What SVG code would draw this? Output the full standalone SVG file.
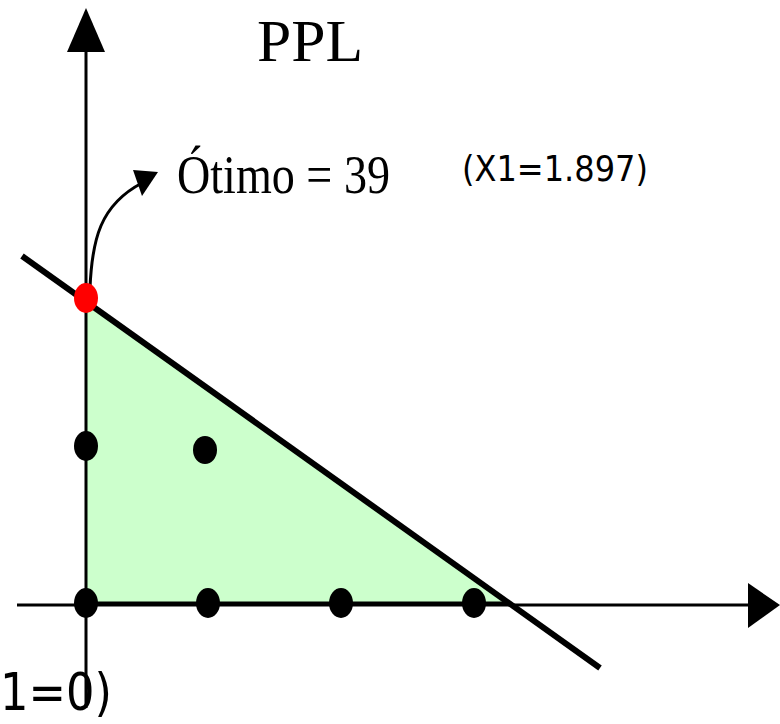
<svg xmlns="http://www.w3.org/2000/svg" width="780" height="724" viewBox="0 0 780 724">
<style>
.ax{stroke:#000;stroke-width:3;fill:none}
.dot{fill:#000}
.serif{font-family:"Liberation Serif","Times New Roman",serif;fill:#000}
.sans{font-family:"DejaVu Sans","Liberation Sans",sans-serif;fill:#000}
</style>
<rect width="780" height="724" fill="#fff"/>
<g id="region">
<polygon points="86,300 86,604 506,604" fill="#ccffcc"/>
</g>
<g id="connectors">
<line class="ax" x1="86" y1="48" x2="86" y2="708"/>
<polygon points="86,8 67,52 105,52" fill="#000"/>
<line class="ax" x1="17" y1="605" x2="750" y2="605"/>
<polygon points="780,605 748,583 748,628" fill="#000"/>
<line x1="86" y1="603" x2="506" y2="603" stroke="#000" stroke-width="3"/>
<line x1="22" y1="256" x2="600" y2="668" stroke="#000" stroke-width="6"/>
<path d="M90,288 C92,240 100,205 142,183" class="ax"/>
<polygon points="158,172 133,170 142,196" fill="#000"/>
</g>
<g id="optimum"><ellipse cx="86" cy="298" rx="12" ry="15" fill="#ff0000"/></g>
<g id="p1"><ellipse class="dot" cx="86" cy="446" rx="12" ry="15"/></g>
<g id="p2"><ellipse class="dot" cx="205" cy="450" rx="12" ry="14"/></g>
<g id="p3"><ellipse class="dot" cx="86" cy="603" rx="12" ry="15"/></g>
<g id="p4"><ellipse class="dot" cx="208" cy="603" rx="12" ry="15"/></g>
<g id="p5"><ellipse class="dot" cx="341" cy="603" rx="12" ry="15"/></g>
<g id="p6"><ellipse class="dot" cx="474" cy="603" rx="12" ry="15"/></g>
<g id="labels">
<text class="serif" x="257" y="61" font-size="59" textLength="106" lengthAdjust="spacingAndGlyphs">PPL</text>
<text class="serif" x="177" y="193" font-size="55" textLength="213" lengthAdjust="spacingAndGlyphs">Ótimo = 39</text>
<text class="sans" x="462" y="181" font-size="35" textLength="186" lengthAdjust="spacingAndGlyphs">(X1=1.897)</text>
<text class="sans" x="0" y="710" font-size="52" textLength="112" lengthAdjust="spacingAndGlyphs">1=0)</text>
</g>
</svg>
